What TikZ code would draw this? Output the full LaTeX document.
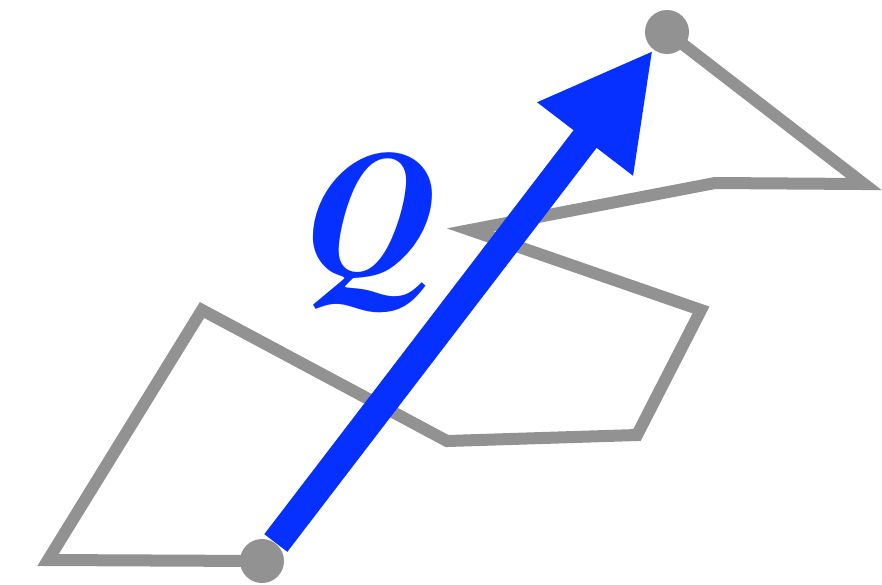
\documentclass[tikz,border=0pt]{standalone}
\usepackage[T1]{fontenc}
\usepackage{xcolor}
\usepackage{tikz}
\usetikzlibrary{arrows.meta}

\definecolor{chaingray}{RGB}{146,146,146}
\definecolor{qblue}{RGB}{5,48,255}

\tikzset{
  chain/.style={draw=chaingray, line width=0.12cm, line join=miter},
  bead/.style={circle, fill=chaingray, minimum size=0.44cm, inner sep=0pt},
  qvec/.style={draw=qblue, line width=0.29cm, -{Triangle[length=1.12cm, width=1.12cm]}}
}

\begin{document}
\begin{tikzpicture}[x=0.01cm, y=-0.01cm]
  \useasboundingbox (0,0) rectangle (882,584);

  % Chain ends
  \coordinate (start) at (262,561);
  \coordinate (end) at (667,32);

  % Random-walk chain
  \draw[chain] (start) -- (48,560) -- (202,310) -- (447,441) -- (637,435)
    -- (701,310) -- (470,230) -- (715,183) -- (864,184) -- (end);

  % End beads
  \node[bead] (a) at (start) {};
  \node[bead] (b) at (end) {};

  % End-to-end vector
  \draw[qvec] (a) -- (b);
  \node[text=qblue, font=\fontfamily{ptm}\fontseries{b}\fontshape{it}\fontsize{51}{51}\selectfont] (q) at (373,232) {Q};
\end{tikzpicture}
\end{document}
